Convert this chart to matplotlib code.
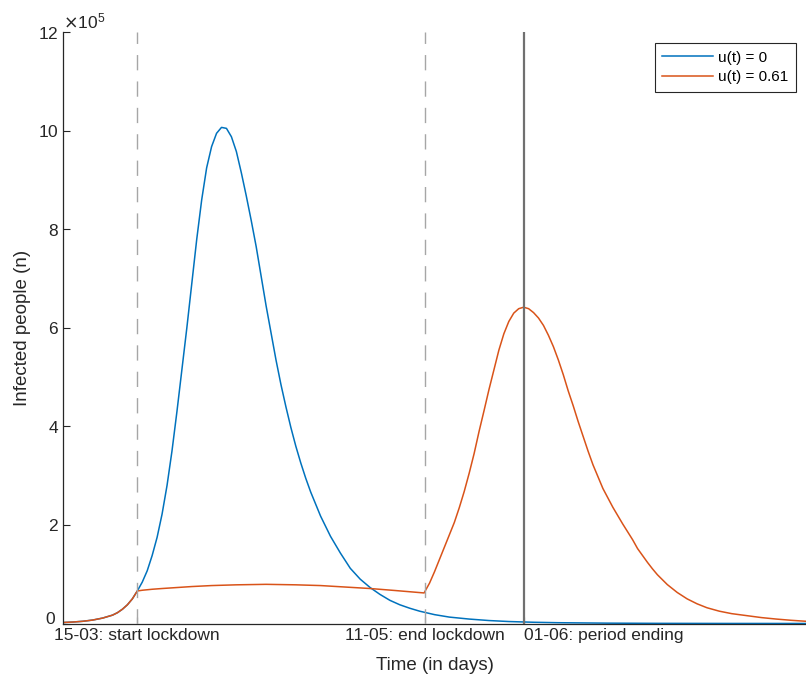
import numpy as np
import matplotlib
matplotlib.use("Agg")
import matplotlib.pyplot as plt
import matplotlib.transforms as mtransforms
from matplotlib.ticker import ScalarFormatter

plt.rcParams['font.family'] = ['Liberation Sans', 'DejaVu Sans']

# days counted from start of simulation, infected in units of 1e5
days_pre = [0, 2, 4, 6, 8, 10, 11, 12, 13, 14, 15]
inf_pre = [0.02, 0.03, 0.045, 0.07, 0.11, 0.17, 0.22, 0.29, 0.38, 0.5, 0.66]

# u(t) = 0 : no lockdown
days_free = [16, 17, 18, 19, 20, 21, 22, 23, 24, 25, 26, 27, 28, 29, 30, 31, 32,
             33, 34, 35, 36, 37, 38, 39, 40, 41, 42, 43, 44, 45, 46, 47, 48, 49,
             50, 52, 54, 56, 58, 60, 62, 64, 66, 68, 70, 72, 75, 78, 82, 86, 90,
             95, 100, 110, 120, 135, 150]
inf_free = [0.84, 1.07, 1.38, 1.75, 2.22, 2.8, 3.5, 4.3, 5.15, 6.0, 6.9, 7.8, 8.6,
            9.25, 9.68, 9.95, 10.07, 10.05, 9.88, 9.58, 9.15, 8.68, 8.18, 7.65,
            7.05, 6.45, 5.9, 5.35, 4.85, 4.4, 3.98, 3.6, 3.26, 2.95, 2.67, 2.18,
            1.77, 1.43, 1.12, 0.9, 0.73, 0.59, 0.47, 0.38, 0.31, 0.25, 0.18, 0.13,
            0.09, 0.06, 0.04, 0.025, 0.016, 0.007, 0.003, 0.001, 0.0005]

# u(t) = 0.61 : lockdown between 15-03 and 11-05
days_lock = [16, 18, 20, 23, 26, 30, 35, 41, 47, 52, 57, 62, 67, 72.9,
             74, 75, 76, 77, 78, 79, 80, 81, 82, 83, 84, 85, 86, 87, 88, 89, 90,
             91, 92, 93, 94, 95, 96, 97, 98, 99, 100, 101, 102, 103, 104, 105,
             106, 107, 108, 109, 110, 111, 112, 113, 114, 115, 116, 117, 118, 119,
             120, 122, 124, 126, 128, 130, 132.5, 135, 138, 141, 144, 147, 150]
inf_lock = [0.675, 0.695, 0.71, 0.73, 0.75, 0.77, 0.785, 0.795, 0.785, 0.77, 0.74,
            0.71, 0.67, 0.62,
            0.82, 1.05, 1.3, 1.55, 1.8, 2.05, 2.35, 2.68, 3.05, 3.45, 3.9, 4.32,
            4.75, 5.15, 5.55, 5.88, 6.13, 6.3, 6.39, 6.42, 6.39, 6.31, 6.2, 6.05,
            5.85, 5.62, 5.35, 5.05, 4.72, 4.42, 4.1, 3.8, 3.5, 3.22, 2.98, 2.74,
            2.55, 2.36, 2.19, 2.02, 1.86, 1.7, 1.52, 1.38, 1.24, 1.11, 0.99, 0.79,
            0.63, 0.5, 0.4, 0.32, 0.25, 0.2, 0.16, 0.12, 0.09, 0.065, 0.045]

tick_days = [15, 73, 93]
tick_labels = ['15-03: start lockdown', '11-05: end lockdown', '01-06: period ending']

blue = '#0072BD'
orange = '#D95319'
axcol = '#262626'

x0 = np.array(days_pre + days_free)
y0 = np.array(inf_pre + inf_free) * 1e5
x1 = np.array(days_pre + days_lock)
y1 = np.array(inf_pre + inf_lock) * 1e5

fig = plt.figure(figsize=(8.06, 6.8), dpi=100)
ax = fig.add_axes([63/806, 56.5/680, 743/806, 591.2/680])

ax.plot(x0, y0, color=blue, lw=1.1, label='u(t) = 0')
ax.plot(x1, y1, color=orange, lw=1.1, label='u(t) = 0.61')

ax.axvline(tick_days[0], color='#a6a6a6', lw=1.0, ls=(0, (11, 8)), zorder=3)
ax.axvline(tick_days[1], color='#a6a6a6', lw=1.0, ls=(0, (11, 8)), zorder=3)
ax.axvline(tick_days[2], color='#707070', lw=1.6, zorder=3)

ax.set_xlim(0, 150)
ax.set_ylim(0, 12e5)
ax.set_yticks(np.arange(0, 12.1, 2) * 1e5)
ax.set_xticks(tick_days)
ax.set_xticklabels(tick_labels)
ax.get_xticklabels()[2].set_horizontalalignment('left')

fmt = ScalarFormatter(useMathText=True)
fmt.set_powerlimits((5, 5))
ax.yaxis.set_major_formatter(fmt)
ax.yaxis.get_offset_text().set_fontsize(12.5)
ax.yaxis.get_offset_text().set_color(axcol)

for s in ['top', 'right']:
    ax.spines[s].set_visible(False)
for s in ['left', 'bottom']:
    ax.spines[s].set_color(axcol)
    ax.spines[s].set_linewidth(0.9)
ax.tick_params(direction='in', length=5, width=0.8, colors=axcol, labelsize=12.5, pad=3)

# lift the "0" label a bit so it sits above the first date label
shift = mtransforms.ScaledTranslation(-2/72, 4/72, fig.dpi_scale_trans)
lab0 = ax.yaxis.get_major_ticks()[0].label1
lab0.set_transform(lab0.get_transform() + shift)

ax.set_xlabel('Time (in days)', fontsize=13.5, color=axcol, labelpad=10)
ax.set_ylabel('Infected people (n)', fontsize=13.5, color=axcol, labelpad=5)

leg = ax.legend(loc='upper right', bbox_to_anchor=(796/806, 1 - 43/680),
                bbox_transform=fig.transFigure, fontsize=11, fancybox=False,
                framealpha=1, edgecolor=axcol, handlelength=3.3, borderpad=0.5,
                labelspacing=0.35, handletextpad=0.35, borderaxespad=0)
leg.get_frame().set_linewidth(0.8)

fig.savefig('out.png', dpi=100)
